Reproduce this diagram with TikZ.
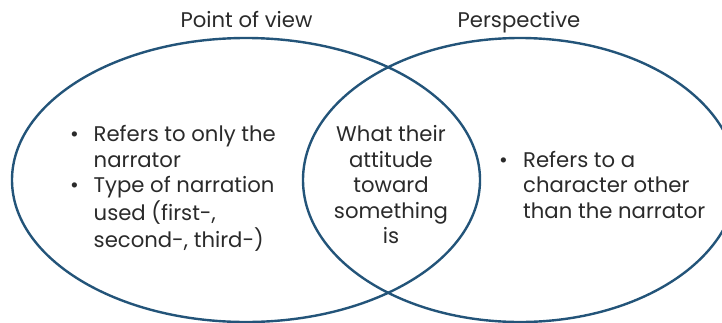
\documentclass[tikz,border=0pt]{standalone}
\usepackage{fontspec}
\setmainfont{Poppins}
\usepackage{array}
\definecolor{ringblue}{HTML}{235479}
\definecolor{inktext}{HTML}{2A2A2A}
\begin{document}
\begin{tikzpicture}[x=1pt,y=-1pt,
  ring/.style={draw=ringblue,line width=2.4pt},
  label/.style={inner sep=0pt,text=inktext,font=\fontsize{21.2}{25.5}\selectfont},
]
\useasboundingbox (0,0) rectangle (722,322);
% the two overlapping sets
\draw[ring] (246,180) ellipse [x radius=234, y radius=142];
\draw[ring] (520,180) ellipse [x radius=217, y radius=142];
% set titles
\node[label,anchor=base] (povtitle) at (246.5,27) {Point of view};
\node[label,anchor=base] (pertitle) at (519,27) {Perspective};
% left-only region
\node[label,anchor=base west] (povlist) at (70,141.7) {%
  \begin{tabular}[t]{@{}p{23.5pt}@{}l@{}}
  \textbullet & Refers to only the\\
              & narrator\\
  \textbullet & Type of narration\\
              & used (first-,\\
              & second-, third-)
  \end{tabular}};
% shared region
\node[label,anchor=base] (shared) at (391,141.7) {%
  \begin{tabular}[t]{@{}c@{}}
  What their\\ attitude\\ toward\\ something\\ is
  \end{tabular}};
% right-only region
\node[label,anchor=base west] (perlist) at (499,167) {%
  \begin{tabular}[t]{@{}p{24pt}@{}l@{}}
  \textbullet & Refers to a\\
              & character other\\
              & than the narrator
  \end{tabular}};
\end{tikzpicture}
\end{document}
